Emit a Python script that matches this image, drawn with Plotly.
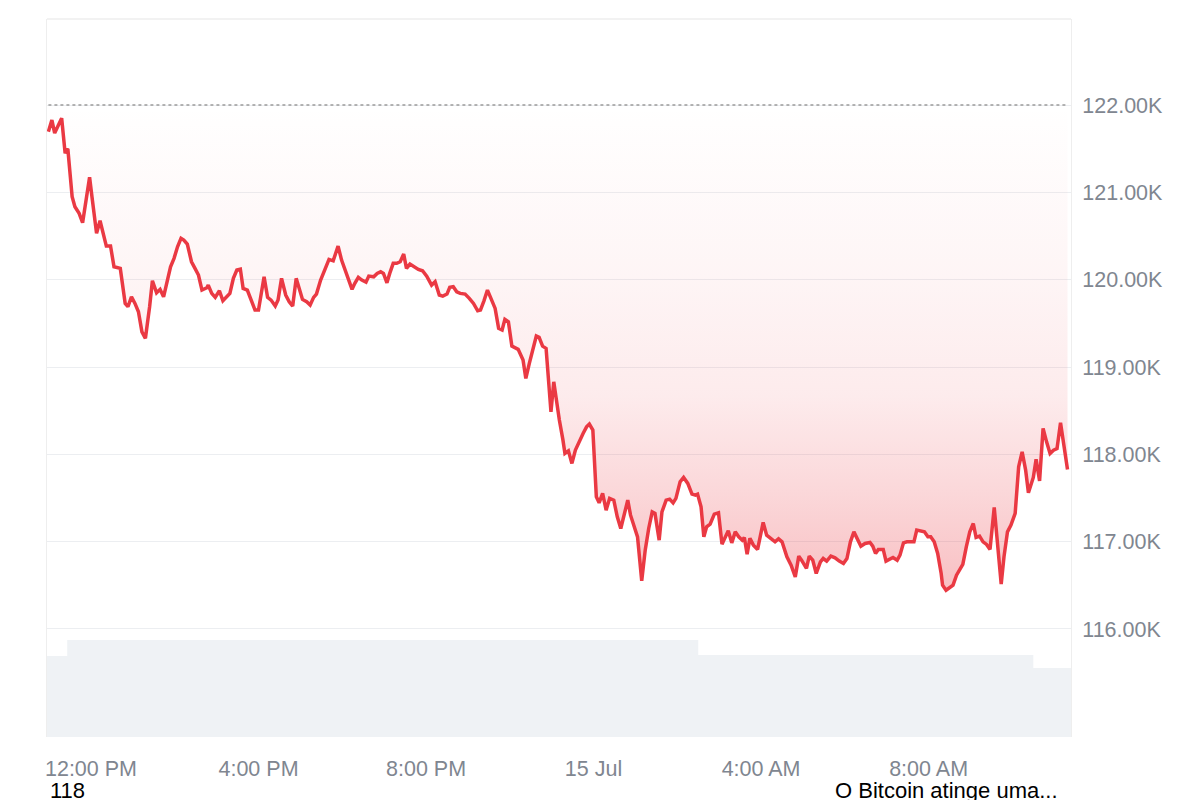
import datetime as dt
import plotly.graph_objects as go

# ---- data -------------------------------------------------------------
base_time = dt.datetime(2025, 7, 14, 12, 0)

# minutes after 12:00 PM (14 Jul) for each price sample
minutes_from_noon = [
    -61, -56, -52, -47, -42, -37, -35, -33, -27, -23, -17, -12, -7, -2, 2, 8, 13, 18, 22, 28,
    33, 42, 49, 53, 58, 63, 68, 73, 78, 84, 88, 94, 99, 104, 108, 114, 119, 124, 129, 133,
    138, 144, 149, 154, 159, 166, 168, 173, 178, 184, 189, 194, 199, 204, 209, 214, 218, 224, 230, 235,
    240, 248, 253, 258, 264, 268, 273, 279, 284, 289, 294, 299, 303, 309, 314, 319, 323, 329, 335, 341,
    347, 354, 359, 365, 374, 378, 383, 388, 394, 398, 405, 410, 415, 419, 424, 428, 433, 438, 443, 448,
    452, 457, 463, 469, 475, 481, 488, 493, 499, 504, 510, 514, 519, 524, 529, 536, 542, 548, 554, 558,
    563, 568, 573, 579, 584, 589, 593, 598, 603, 608, 612, 619, 623, 628, 633, 638, 642, 647, 652, 659,
    663, 666, 671, 676, 679, 684, 689, 694, 700, 705, 710, 714, 719, 724, 728, 733, 738, 743, 749, 754,
    759, 764, 769, 773, 779, 783, 789, 794, 799, 804, 808, 814, 818, 824, 829, 834, 838, 844, 849, 855,
    861, 866, 869, 874, 878, 882, 887, 893, 899, 904, 909, 913, 918, 923, 928, 933, 936, 940, 944, 949,
    955, 963, 968, 974, 980, 985, 990, 997, 1003, 1009, 1014, 1018, 1025, 1029, 1034, 1039, 1045, 1049, 1054, 1060,
    1066, 1072, 1078, 1083, 1088, 1093, 1099, 1103, 1109, 1116, 1120, 1124, 1128, 1135, 1139, 1144, 1149, 1155, 1159, 1164,
    1169, 1175, 1179, 1183, 1189, 1194, 1199, 1203, 1208, 1213, 1218, 1220, 1225, 1230, 1235, 1240, 1245, 1249, 1254, 1259,
    1264, 1268, 1273, 1278, 1283, 1288, 1294, 1299, 1304, 1308, 1313, 1318, 1324, 1329, 1334, 1339, 1343, 1350, 1354, 1359,
    1364, 1369, 1374, 1379, 1384, 1389, 1393, 1399,
]

price_usd = [
    121694, 121828, 121679, 121771, 121848, 121447, 121493, 121485, 120950, 120835, 120759, 120652, 120912, 121172, 120912, 120530, 120675, 120491, 120385, 120385,
    120148, 120129, 119728, 119690, 119804, 119728, 119632, 119403, 119328, 119690, 119987, 119850, 119889, 119804, 119938, 120148, 120244, 120377, 120473, 120454,
    120408, 120205, 120129, 120053, 119881, 119907, 119938, 119843, 119797, 119873, 119758, 119804, 119843, 120015, 120110, 120121, 119900, 119881, 119747, 119652,
    119652, 120033, 119797, 119766, 119698, 119766, 120015, 119824, 119747, 119698, 120015, 119861, 119774, 119747, 119709, 119797, 119835, 119995, 120110, 120232,
    120216, 120385, 120224, 120090, 119889, 119958, 120026, 119995, 119972, 120041, 120033, 120072, 120090, 120072, 119964, 120072, 120187, 120187, 120205, 120293,
    120129, 120179, 120148, 120118, 120102, 120041, 119938, 119976, 119824, 119812, 119835, 119912, 119919, 119861, 119843, 119835, 119786, 119728, 119644, 119652,
    119758, 119881, 119786, 119671, 119442, 119423, 119545, 119518, 119239, 119220, 119202, 119079, 118869, 119041, 119213, 119354, 119339, 119239, 119213, 118487,
    118830, 118659, 118392, 118171, 118010, 118040, 117896, 118048, 118163, 118239, 118315, 118346, 118277, 117513, 117444, 117552, 117361, 117495, 117475, 117284,
    117151, 117323, 117475, 117303, 117169, 117055, 116551, 116903, 117151, 117341, 117323, 117017, 117341, 117475, 117487, 117444, 117495, 117685, 117735, 117667,
    117544, 117533, 117544, 117399, 117055, 117169, 117200, 117315, 117330, 116971, 117055, 117124, 116986, 117112, 117055, 117017, 117048, 116857, 117037, 116960,
    116911, 117220, 117074, 117037, 116998, 117032, 116998, 116826, 116731, 116597, 116834, 116788, 116693, 116834, 116788, 116636, 116769, 116807, 116777, 116834,
    116814, 116777, 116750, 116807, 116998, 117112, 117025, 116948, 116979, 116991, 116948, 116865, 116911, 116911, 116777, 116796, 116819, 116788, 116845, 116986,
    116998, 116998, 116998, 117132, 117124, 117112, 117055, 117055, 116998, 116865, 116636, 116502, 116444, 116475, 116502, 116616, 116693, 116739, 116940, 117112,
    117208, 117048, 117063, 116998, 116968, 116911, 117392, 116903, 116513, 116826, 117112, 117189, 117323, 117857, 118029, 117819, 117559, 117735, 117942, 117696,
    118297, 118143, 118010, 118048, 118067, 118361, 118163, 117827,
]

# reference (opening) price, drawn as the dotted baseline
open_price = 122000

# trading volume (relative units), step levels
volume_minutes = [-63, -34, 870, 1350, 1404]
volume_values = [81, 97, 82, 69, 69]

# axes
x_range_minutes = [-63, 1404]
x_tick_minutes = [0, 240, 480, 720, 960, 1200]
x_tick_labels = ["12:00 PM", "4:00 PM", "8:00 PM", "15 Jul", "4:00 AM", "8:00 AM"]
y_tick_values = [116000, 117000, 118000, 119000, 120000, 121000, 122000]
y_tick_labels = ["116.00K", "117.00K", "118.00K", "119.00K", "120.00K", "121.00K", "122.00K"]
y_range = [114763, 122985]
volume_range = [0, 718]

bottom_left_text = "118"
bottom_right_text = "O Bitcoin atinge uma..."

# ---- build --------------------------------------------------------------
def to_time(m):
    return base_time + dt.timedelta(minutes=m)

times = [to_time(m) for m in minutes_from_noon]
vol_times = [to_time(m) for m in volume_minutes]

RED = "#ea3943"
GRAY_TXT = "#808690"
FONT = "Liberation Sans, Arial, sans-serif"

fig = go.Figure()

fig.add_trace(go.Scatter(
    x=vol_times, y=volume_values, yaxis="y2",
    mode="lines", line=dict(width=0, shape="hv"),
    fill="tozeroy", fillcolor="#eff2f5", hoverinfo="skip", showlegend=False,
))

fig.add_trace(go.Scatter(
    x=[times[0], times[-1]], y=[open_price, open_price],
    mode="lines", line=dict(color="#9b9b9b", width=1.5, dash="dot"),
    hoverinfo="skip", showlegend=False,
))

fig.add_trace(go.Scatter(
    x=times, y=price_usd, mode="lines",
    line=dict(color=RED, width=3.5),
    fill="tonexty",
    fillgradient=dict(
        type="vertical",
        start=open_price,
        stop=min(price_usd),
        colorscale=[
            [0.0, "rgba(234,57,67,0.0)"],
            [0.35, "rgba(234,57,67,0.05)"],
            [0.6, "rgba(234,57,67,0.10)"],
            [0.8, "rgba(234,57,67,0.20)"],
            [1.0, "rgba(234,57,67,0.32)"],
        ],
    ),
    showlegend=False,
))

fig.update_layout(
    width=1200, height=800,
    margin=dict(l=47, r=129, t=19, b=63),
    paper_bgcolor="white", plot_bgcolor="white",
    font=dict(family=FONT, color=GRAY_TXT, size=21.5),
    xaxis=dict(
        type="date",
        range=[to_time(x_range_minutes[0]), to_time(x_range_minutes[1])],
        tickvals=[to_time(m) for m in x_tick_minutes],
        ticktext=x_tick_labels,
        showgrid=False, zeroline=False, showline=False,
        ticks="", ticklabelstandoff=16,
        tickfont=dict(size=21.5, color=GRAY_TXT),
    ),
    yaxis=dict(
        side="right", range=y_range,
        tickvals=y_tick_values, ticktext=y_tick_labels,
        showgrid=True, gridcolor="#eceef1", gridwidth=1,
        zeroline=False, showline=True, linecolor="#eeeeee", mirror=True,
        ticks="", ticklabelstandoff=6,
        tickfont=dict(size=21.5, color=GRAY_TXT),
    ),
    yaxis2=dict(
        overlaying="y", range=volume_range, visible=False,
    ),
    shapes=[dict(type="line", xref="paper", yref="paper", x0=0, x1=1, y0=1, y1=1,
                 line=dict(color="#eeeeee", width=1.5))],
    annotations=[
        dict(text=bottom_left_text, xref="paper", yref="paper", x=0.001, y=-0.0752,
             xanchor="left", yanchor="middle", showarrow=False,
             font=dict(family=FONT, size=22, color="black")),
        dict(text=bottom_right_text, xref="paper", yref="paper", x=0.7676, y=-0.0752,
             xanchor="left", yanchor="middle", showarrow=False,
             font=dict(family=FONT, size=22, color="black")),
    ],
)

fig.write_html(
    "out.html",
    config={"displayModeBar": False},
    post_script="document.body.style.margin='0';document.body.style.overflow='hidden';",
)
